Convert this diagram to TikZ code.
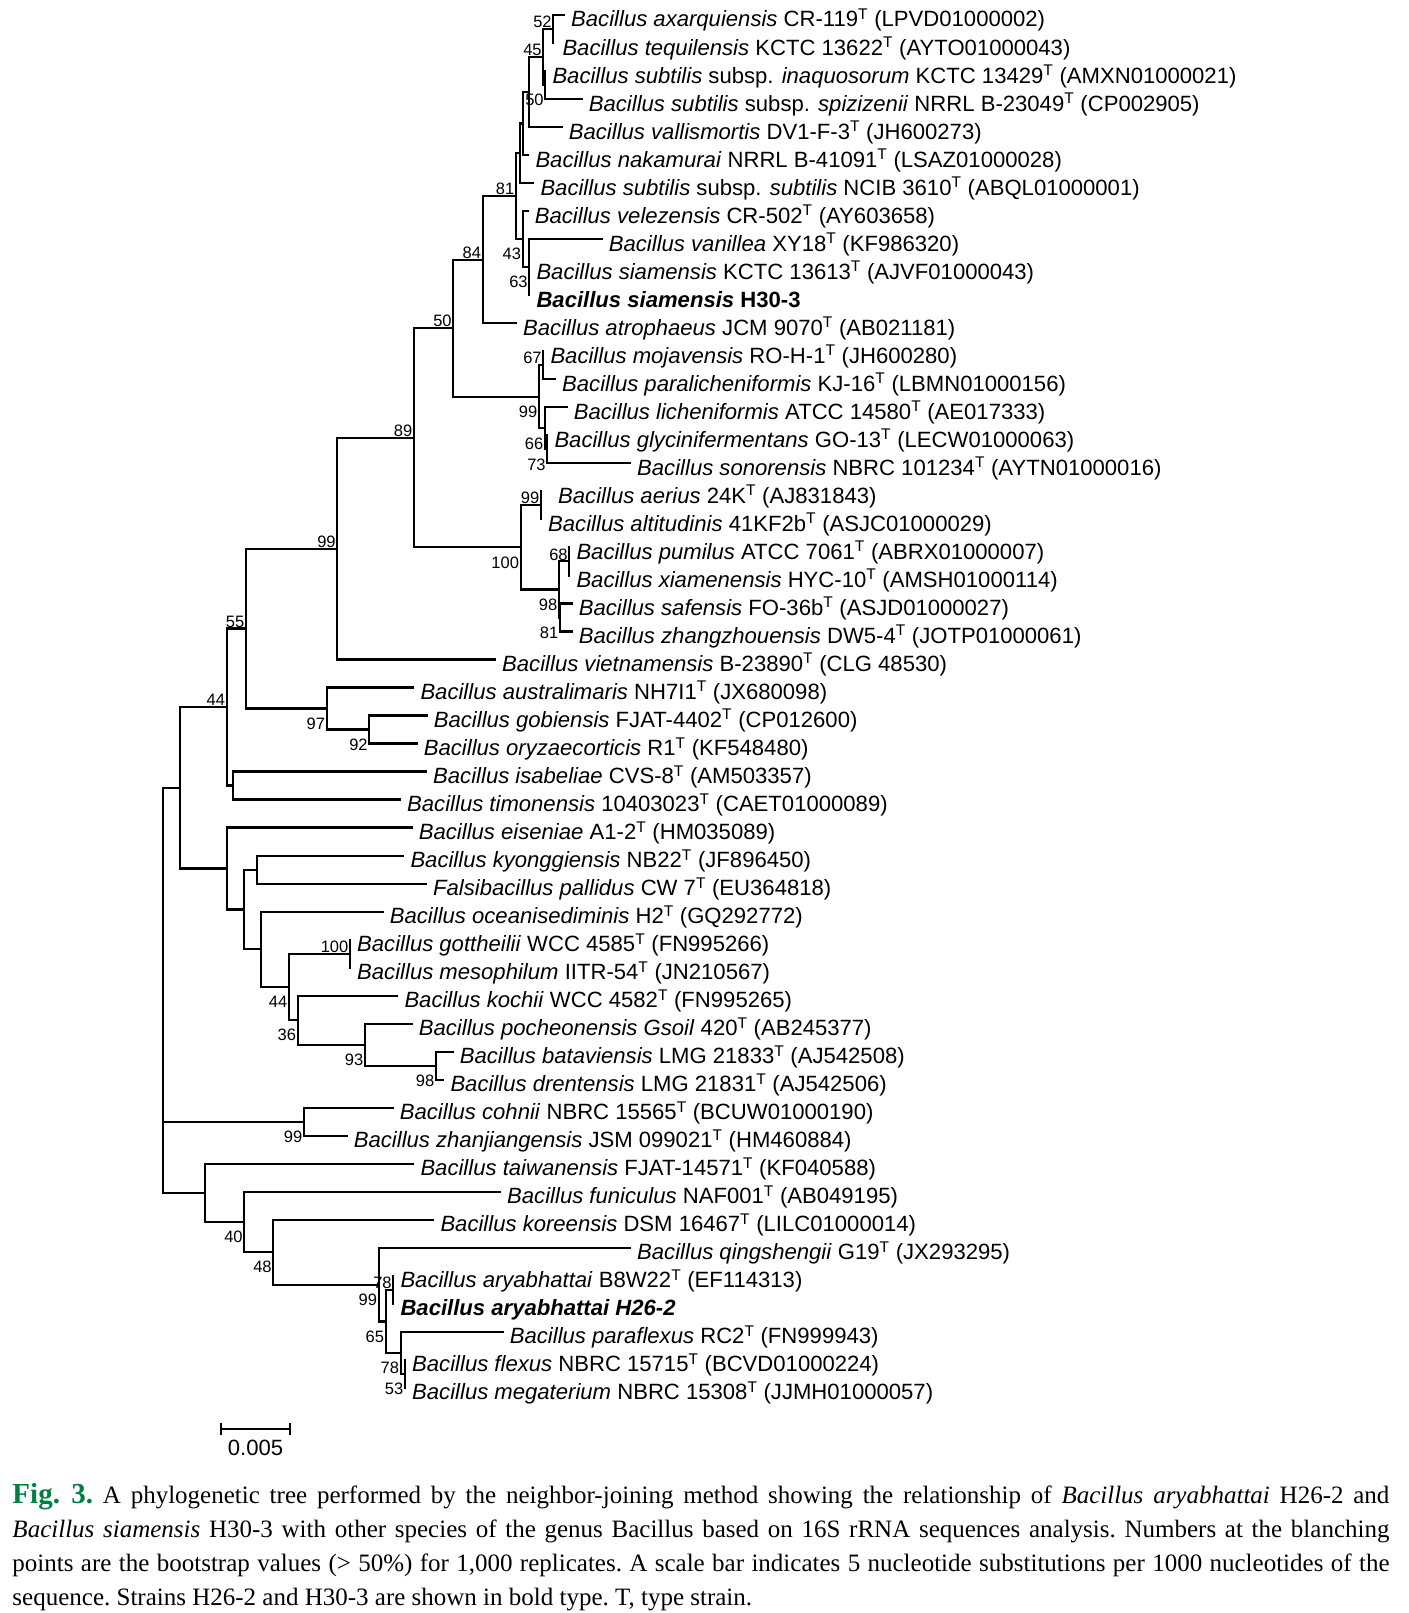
\documentclass[tikz,border=0pt]{standalone}
\usepackage{fontspec}
\setmainfont{Liberation Sans}
\newfontfamily\capfont{Liberation Serif}
\usepackage{xcolor}
\definecolor{figgreen}{RGB}{0,128,64}

\begin{document}
\begin{tikzpicture}[
			x=1pt, y=-1pt,
			font=\fontsize{22.1}{26}\selectfont,
			branch/.style={draw, line width=2.2pt, line cap=rect},
			taxon/.style={anchor=base west, inner sep=0pt, xshift=7pt, yshift=-12pt},
			boot/.style={font=\fontsize{16.5}{18}\selectfont, inner sep=0pt},
			bootup/.style={boot, anchor=south east, xshift=-1.5pt, yshift=1pt},
			bootdn/.style={boot, anchor=north east, xshift=-1.5pt, yshift=-9pt},
			scalelbl/.style={anchor=north, inner sep=0pt},
			caption/.style={anchor=north west, inner sep=0pt, text width=1377pt, align=justify,
				font=\capfont\fontsize{25}{33.9}\selectfont\frenchspacing},
			]
			
			\fill[white] (0,0) rectangle (1408,1613);
			\useasboundingbox (0,0) rectangle (1408,1613);
			
			% taxa
			\path (564,15.00) coordinate (t1) node[taxon] (l1) {\textit{Bacillus axarquiensis} CR-119\textsuperscript{T} (LPVD01000002)};
			\path (553.3,43.02) coordinate (t2) node[taxon, xshift=2pt] (l2) {\textit{Bacillus tequilensis} KCTC 13622\textsuperscript{T} (AYTO01000043)};
			\path (545.3,71.04) coordinate (t3) node[taxon] (l3) {\textit{Bacillus subtilis} subsp. \textit{inaquosorum} KCTC 13429\textsuperscript{T} (AMXN01000021)};
			\path (581.7,99.06) coordinate (t4) node[taxon] (l4) {\textit{Bacillus subtilis} subsp. \textit{spizizenii} NRRL B-23049\textsuperscript{T} (CP002905)};
			\path (561.7,127.08) coordinate (t5) node[taxon] (l5) {\textit{Bacillus vallismortis} DV1-F-3\textsuperscript{T} (JH600273)};
			\path (528.3,155.10) coordinate (t6) node[taxon] (l6) {\textit{Bacillus nakamurai} NRRL B-41091\textsuperscript{T} (LSAZ01000028)};
			\path (533.3,183.12) coordinate (t7) node[taxon] (l7) {\textit{Bacillus subtilis} subsp. \textit{subtilis} NCIB 3610\textsuperscript{T} (ABQL01000001)};
			\path (527.7,211.14) coordinate (t8) node[taxon] (l8) {\textit{Bacillus velezensis} CR-502\textsuperscript{T} (AY603658)};
			\path (601.7,239.16) coordinate (t9) node[taxon] (l9) {\textit{Bacillus vanillea} XY18\textsuperscript{T} (KF986320)};
			\path (529.3,267.18) coordinate (t10) node[taxon] (l10) {\textit{Bacillus siamensis} KCTC 13613\textsuperscript{T} (AJVF01000043)};
			\path (529.3,295.20) coordinate (t11) node[taxon] (l11) {\textbf{\textit{Bacillus siamensis} H30-3}};
			\path (516,323.22) coordinate (t12) node[taxon] (l12) {\textit{Bacillus atrophaeus} JCM 9070\textsuperscript{T} (AB021181)};
			\path (543.3,351.24) coordinate (t13) node[taxon] (l13) {\textit{Bacillus mojavensis} RO-H-1\textsuperscript{T} (JH600280)};
			\path (555,379.26) coordinate (t14) node[taxon] (l14) {\textit{Bacillus paralicheniformis} KJ-16\textsuperscript{T} (LBMN01000156)};
			\path (566.7,407.28) coordinate (t15) node[taxon] (l15) {\textit{Bacillus licheniformis} ATCC 14580\textsuperscript{T} (AE017333)};
			\path (547.3,435.30) coordinate (t16) node[taxon] (l16) {\textit{Bacillus glycinifermentans} GO-13\textsuperscript{T} (LECW01000063)};
			\path (630,463.32) coordinate (t17) node[taxon] (l17) {\textit{Bacillus sonorensis} NBRC 101234\textsuperscript{T} (AYTN01000016)};
			\path (541,491.34) coordinate (t18) node[taxon, xshift=10pt] (l18) {\textit{Bacillus aerius} 24K\textsuperscript{T} (AJ831843)};
			\path (541,519.36) coordinate (t19) node[taxon] (l19) {\textit{Bacillus altitudinis} 41KF2b\textsuperscript{T} (ASJC01000029)};
			\path (569.3,547.38) coordinate (t20) node[taxon] (l20) {\textit{Bacillus pumilus} ATCC 7061\textsuperscript{T} (ABRX01000007)};
			\path (569.3,575.40) coordinate (t21) node[taxon] (l21) {\textit{Bacillus xiamenensis} HYC-10\textsuperscript{T} (AMSH01000114)};
			\path (571.7,603.42) coordinate (t22) node[taxon] (l22) {\textit{Bacillus safensis} FO-36b\textsuperscript{T} (ASJD01000027)};
			\path (571.7,631.44) coordinate (t23) node[taxon] (l23) {\textit{Bacillus zhangzhouensis} DW5-4\textsuperscript{T} (JOTP01000061)};
			\path (495,659.46) coordinate (t24) node[taxon] (l24) {\textit{Bacillus vietnamensis} B-23890\textsuperscript{T} (CLG 48530)};
			\path (413.3,687.48) coordinate (t25) node[taxon] (l25) {\textit{Bacillus australimaris} NH7I1\textsuperscript{T} (JX680098)};
			\path (426.7,715.50) coordinate (t26) node[taxon] (l26) {\textit{Bacillus gobiensis} FJAT-4402\textsuperscript{T} (CP012600)};
			\path (416.7,743.52) coordinate (t27) node[taxon] (l27) {\textit{Bacillus oryzaecorticis} R1\textsuperscript{T} (KF548480)};
			\path (426,771.54) coordinate (t28) node[taxon] (l28) {\textit{Bacillus isabeliae} CVS-8\textsuperscript{T} (AM503357)};
			\path (400,799.56) coordinate (t29) node[taxon] (l29) {\textit{Bacillus timonensis} 10403023\textsuperscript{T} (CAET01000089)};
			\path (411.7,827.58) coordinate (t30) node[taxon] (l30) {\textit{Bacillus eiseniae} A1-2\textsuperscript{T} (HM035089)};
			\path (403.3,855.60) coordinate (t31) node[taxon] (l31) {\textit{Bacillus kyonggiensis} NB22\textsuperscript{T} (JF896450)};
			\path (426,883.62) coordinate (t32) node[taxon] (l32) {\textit{Falsibacillus pallidus} CW 7\textsuperscript{T} (EU364818)};
			\path (382.7,911.64) coordinate (t33) node[taxon] (l33) {\textit{Bacillus oceanisediminis} H2\textsuperscript{T} (GQ292772)};
			\path (350,939.66) coordinate (t34) node[taxon] (l34) {\textit{Bacillus gottheilii} WCC 4585\textsuperscript{T} (FN995266)};
			\path (350,967.68) coordinate (t35) node[taxon] (l35) {\textit{Bacillus mesophilum} IITR-54\textsuperscript{T} (JN210567)};
			\path (397.3,995.70) coordinate (t36) node[taxon] (l36) {\textit{Bacillus kochii} WCC 4582\textsuperscript{T} (FN995265)};
			\path (411.7,1023.72) coordinate (t37) node[taxon] (l37) {\textit{Bacillus pocheonensis Gsoil} 420\textsuperscript{T} (AB245377)};
			\path (452.7,1051.74) coordinate (t38) node[taxon] (l38) {\textit{Bacillus bataviensis} LMG 21833\textsuperscript{T} (AJ542508)};
			\path (443.3,1079.76) coordinate (t39) node[taxon] (l39) {\textit{Bacillus drentensis} LMG 21831\textsuperscript{T} (AJ542506)};
			\path (392.7,1107.78) coordinate (t40) node[taxon] (l40) {\textit{Bacillus cohnii} NBRC 15565\textsuperscript{T} (BCUW01000190)};
			\path (346.7,1135.80) coordinate (t41) node[taxon] (l41) {\textit{Bacillus zhanjiangensis} JSM 099021\textsuperscript{T} (HM460884)};
			\path (413.3,1163.82) coordinate (t42) node[taxon] (l42) {\textit{Bacillus taiwanensis} FJAT-14571\textsuperscript{T} (KF040588)};
			\path (500,1191.84) coordinate (t43) node[taxon] (l43) {\textit{Bacillus funiculus} NAF001\textsuperscript{T} (AB049195)};
			\path (433.3,1219.86) coordinate (t44) node[taxon] (l44) {\textit{Bacillus koreensis} DSM 16467\textsuperscript{T} (LILC01000014)};
			\path (630,1247.88) coordinate (t45) node[taxon] (l45) {\textit{Bacillus qingshengii} G19\textsuperscript{T} (JX293295)};
			\path (393.3,1275.90) coordinate (t46) node[taxon] (l46) {\textit{Bacillus aryabhattai} B8W22\textsuperscript{T} (EF114313)};
			\path (393.3,1303.92) coordinate (t47) node[taxon] (l47) {\textbf{\textit{Bacillus aryabhattai H26-2}}};
			\path (502.7,1331.94) coordinate (t48) node[taxon] (l48) {\textit{Bacillus paraflexus} RC2\textsuperscript{T} (FN999943)};
			\path (405,1359.96) coordinate (t49) node[taxon] (l49) {\textit{Bacillus flexus} NBRC 15715\textsuperscript{T} (BCVD01000224)};
			\path (405,1387.98) coordinate (t50) node[taxon] (l50) {\textit{Bacillus megaterium} NBRC 15308\textsuperscript{T} (JJMH01000057)};
			
			% internal nodes
			\coordinate (n52) at (553.3,29.01);
			\coordinate (n50a) at (545.3,85.05);
			\coordinate (n45) at (543.3,57.03);
			\coordinate (nV) at (529.3,92.06);
			\coordinate (nN) at (523.3,123.58);
			\coordinate (nS) at (520,153.35);
			\coordinate (n63) at (529.3,267.18);
			\coordinate (n43) at (522.7,239.16);
			\coordinate (n81) at (516,196.26);
			\coordinate (n84) at (482.7,259.74);
			\coordinate (n67) at (543.3,365.25);
			\coordinate (n73) at (547.3,449.31);
			\coordinate (n66) at (545,428.30);
			\coordinate (n99a) at (539,396.78);
			\coordinate (n50b) at (453.3,328.26);
			\coordinate (n99b) at (541,505.35);
			\coordinate (n68) at (569.3,561.39);
			\coordinate (n81b) at (560,617.43);
			\coordinate (n98) at (559,589.41);
			\coordinate (n100) at (520.7,547.38);
			\coordinate (n89) at (414,437.82);
			\coordinate (n99c) at (337.3,548.64);
			\coordinate (n92) at (369.3,729.51);
			\coordinate (n97) at (326.7,708.50);
			\coordinate (n55) at (246,628.57);
			\coordinate (nIT) at (233,785.55);
			\coordinate (n44a) at (226.7,707.06);
			\coordinate (nKF) at (257.3,869.61);
			\coordinate (n100g) at (350,953.67);
			\coordinate (n98g) at (436,1065.75);
			\coordinate (n93) at (365,1044.74);
			\coordinate (n36) at (297.7,1020.22);
			\coordinate (n44b) at (289,986.95);
			\coordinate (nO) at (261,949.30);
			\coordinate (nKO) at (244,909.46);
			\coordinate (nE) at (226.7,868.52);
			\coordinate (nA) at (180,787.79);
			\coordinate (n99d) at (304,1121.79);
			\coordinate (nF) at (405,1373.97);
			\coordinate (n78b) at (400.7,1352.96);
			\coordinate (n78a) at (393.3,1289.91);
			\coordinate (n65) at (385.7,1321.43);
			\coordinate (n99e) at (378.7,1284.66);
			\coordinate (n48) at (273.3,1252.26);
			\coordinate (n40) at (244.3,1222.05);
			\coordinate (nT) at (205,1192.94);
			\coordinate (root) at (163.3,1121.79);
			
			% branches
			\path[branch] (n52) |- (t1) (n52) |- (t2);
			\path[branch] (n50a) |- (t3) (n50a) |- (t4);
			\path[branch] (n45) |- (n52) (n45) |- (n50a);
			\path[branch] (nV) |- (n45) (nV) |- (t5);
			\path[branch] (nN) |- (nV) (nN) |- (t6);
			\path[branch] (nS) |- (nN) (nS) |- (t7);
			\path[branch] (n63) |- (t9) (n63) |- (t10) (n63) |- (t11);
			\path[branch] (n43) |- (t8) (n43) |- (n63);
			\path[branch] (n81) |- (nS) (n81) |- (n43);
			\path[branch] (n84) |- (n81) (n84) |- (t12);
			\path[branch] (n67) |- (t13) (n67) |- (t14);
			\path[branch] (n73) |- (t16) (n73) |- (t17);
			\path[branch] (n66) |- (t15) (n66) |- (n73);
			\path[branch] (n99a) |- (n67) (n99a) |- (n66);
			\path[branch] (n50b) |- (n84) (n50b) |- (n99a);
			\path[branch] (n99b) |- (t18) (n99b) |- (t19);
			\path[branch] (n68) |- (t20) (n68) |- (t21);
			\path[branch] (n81b) |- (t22) (n81b) |- (t23);
			\path[branch] (n98) |- (n68) (n98) |- (n81b);
			\path[branch] (n100) |- (n99b) (n100) |- (n98);
			\path[branch] (n89) |- (n50b) (n89) |- (n100);
			\path[branch] (n99c) |- (n89) (n99c) |- (t24);
			\path[branch] (n92) |- (t26) (n92) |- (t27);
			\path[branch] (n97) |- (t25) (n97) |- (n92);
			\path[branch] (n55) |- (n99c) (n55) |- (n97);
			\path[branch] (nIT) |- (t28) (nIT) |- (t29);
			\path[branch] (n44a) |- (n55) (n44a) |- (nIT);
			\path[branch] (nKF) |- (t31) (nKF) |- (t32);
			\path[branch] (n100g) |- (t34) (n100g) |- (t35);
			\path[branch] (n98g) |- (t38) (n98g) |- (t39);
			\path[branch] (n93) |- (t37) (n93) |- (n98g);
			\path[branch] (n36) |- (t36) (n36) |- (n93);
			\path[branch] (n44b) |- (n100g) (n44b) |- (n36);
			\path[branch] (nO) |- (t33) (nO) |- (n44b);
			\path[branch] (nKO) |- (nKF) (nKO) |- (nO);
			\path[branch] (nE) |- (t30) (nE) |- (nKO);
			\path[branch] (nA) |- (n44a) (nA) |- (nE);
			\path[branch] (n99d) |- (t40) (n99d) |- (t41);
			\path[branch] (nF) |- (t49) (nF) |- (t50);
			\path[branch] (n78b) |- (t48) (n78b) |- (nF);
			\path[branch] (n78a) |- (t46) (n78a) |- (t47);
			\path[branch] (n65) |- (n78a) (n65) |- (n78b);
			\path[branch] (n99e) |- (t45) (n99e) |- (n65);
			\path[branch] (n48) |- (t44) (n48) |- (n99e);
			\path[branch] (n40) |- (t43) (n40) |- (n48);
			\path[branch] (nT) |- (t42) (nT) |- (n40);
			\path[branch] (root) |- (nA) (root) |- (n99d) (root) |- (nT);
			
			% bootstrap values
			\node[bootup] (b52) at (n52) {52};
			\node[bootup] (b45) at (n45) {45};
			\node[bootdn] (b50a) at (n50a) {50};
			\node[bootup] (b81) at (n81) {81};
			\node[bootdn] (b43) at (n43) {43};
			\node[bootdn] (b63) at (n63) {63};
			\node[bootup] (b84) at (n84) {84};
			\node[bootup] (b50b) at (n50b) {50};
			\node[bootup] (b67) at (n67) {67};
			\node[bootdn] (b99a) at (n99a) {99};
			\node[bootdn] (b66) at (n66) {66};
			\node[bootdn] (b73) at (n73) {73};
			\node[bootup] (b89) at (n89) {89};
			\node[bootup] (b99b) at (n99b) {99};
			\node[bootdn] (b100) at (n100) {100};
			\node[bootup] (b68) at (n68) {68};
			\node[bootdn] (b98) at (n98) {98};
			\node[bootdn] (b81b) at (n81b) {81};
			\node[bootup] (b99c) at (n99c) {99};
			\node[bootup] (b55) at (n55) {55};
			\node[bootdn] (b97) at (n97) {97};
			\node[bootdn] (b92) at (n92) {92};
			\node[bootup] (b44a) at (n44a) {44};
			\node[bootup] (b100g) at (n100g) {100};
			\node[bootdn] (b44b) at (n44b) {44};
			\node[bootdn] (b36) at (n36) {36};
			\node[bootdn] (b93) at (n93) {93};
			\node[bootdn] (b98g) at (n98g) {98};
			\node[bootdn] (b99d) at (n99d) {99};
			\node[bootdn] (b40) at (n40) {40};
			\node[bootdn] (b48) at (n48) {48};
			\node[bootdn] (b99e) at (n99e) {99};
			\node[bootup] (b78a) at (n78a) {78};
			\node[bootdn] (b65) at (n65) {65};
			\node[bootdn] (b78b) at (n78b) {78};
			\node[bootdn] (b53) at (nF) {53};
			
			% scale bar
			\coordinate (sb1) at (221,1429.3);
			\coordinate (sb2) at (290,1429.3);
			\path[branch, line cap=butt] (sb1) -- (sb2)
				(sb1) ++(0,-6) -- ++(0,12)
				(sb2) ++(0,-6) -- ++(0,12);
			\node[scalelbl] (sbl) at (255.5,1440) {0.005};
			
			% caption
			\node[caption] (cap) at (12.3,1483) {\textcolor{figgreen}{\fontsize{29}{33.9}\selectfont\textbf{Fig. 3.}} A phylogenetic tree performed by the neighbor-joining method showing the relationship of \textit{Bacillus aryabhattai} H26-2 and\linebreak
				\textit{Bacillus siamensis} H30-3 with other species of the genus Bacillus based on 16S rRNA sequences analysis. Numbers at the blanching\linebreak
				points are the bootstrap values (> 50\%) for 1,000 replicates. A scale bar indicates 5 nucleotide substitutions per 1000 nucleotides of the\linebreak
				sequence. Strains H26-2 and H30-3 are shown in bold type. T, type strain.};
			
		\end{tikzpicture}
\end{document}
